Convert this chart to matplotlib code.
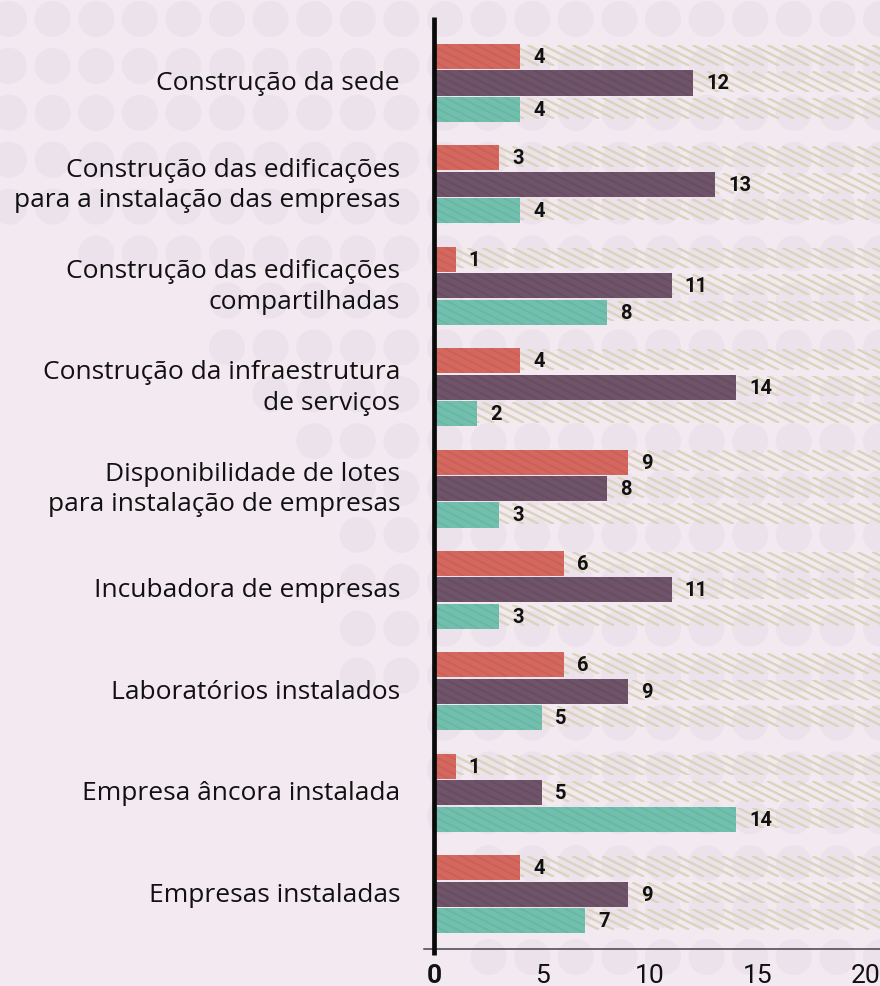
import numpy as np
import matplotlib
matplotlib.use("Agg")
import matplotlib.pyplot as plt
from matplotlib.patches import Circle
from matplotlib.collections import LineCollection

# ---------------- data ----------------
categories = [
    "Construção da sede",
    "Construção das edificações\npara a instalação das empresas",
    "Construção das edificações\ncompartilhadas",
    "Construção da infraestrutura\nde serviços",
    "Disponibilidade de lotes\npara instalação de empresas",
    "Incubadora de empresas",
    "Laboratórios instalados",
    "Empresa âncora instalada",
    "Empresas instaladas",
]
serie_vermelha = [4, 3, 1, 4, 9, 6, 6, 1, 4]
serie_roxa = [12, 13, 11, 14, 8, 11, 9, 5, 9]
serie_verde = [4, 4, 8, 2, 3, 3, 5, 14, 7]
x_ticks = [0, 5, 10, 15, 20]

# ---------------- style ----------------
BG = "#f3e9f1"
DOT = "#ece2eb"
RED, RED_H = "#d4685f", "#c25850"
PURPLE, PURPLE_H = "#6f5469", "#5f455a"
TEAL, TEAL_H = "#72bfae", "#5eae9c"
TRACK_H = "#dbd3bb"

plt.rcParams["font.family"] = ["Roboto", "DejaVu Sans"]

W, H = 880, 987
fig = plt.figure(figsize=(W / 100, H / 100), dpi=100, facecolor=BG)

# decorative dot background
bg = fig.add_axes([0, 0, 1, 1], zorder=0)
bg.set_xlim(0, W)
bg.set_ylim(H, 0)
bg.axis("off")
bx = [0, 60, 95, 200, 227, 250, 270, 313, 357, 400, 433, 488, 880]
by = [215, 230, 262, 290, 360, 380, 400, 455, 700, 705, 790, 990, 990]
for cy in np.arange(20, H + 30, 46.9):
    for cx in np.arange(9, W + 30, 43.6):
        if cy <= np.interp(cx, bx, by):
            bg.add_patch(Circle((cx, cy), 18, facecolor=DOT, edgecolor="none"))

# main axes
left_px, right_px, top_px, bottom_px = 434, 880, 18, 950
ax = fig.add_axes([left_px / W, 1 - bottom_px / H, (right_px - left_px) / W,
                   (bottom_px - top_px) / H], zorder=1)
ax.set_facecolor("none")
x_max = 20.65
y_top, y_bot = -0.651, 8.542
ax.set_xlim(0, x_max)
ax.set_ylim(y_bot, y_top)
px_x = (right_px - left_px) / x_max          # pixels per x unit
px_y = (bottom_px - top_px) / (y_bot - y_top)  # pixels per y unit

n = len(categories)
y = np.arange(n)
bh = 0.247
off = 0.261


def diag_lines(patch, color, lw, alpha, period_px=15.0, slope=0.5, z=2.5):
    """shallow diagonal hatch lines clipped to a bar patch"""
    x0 = patch.get_x()
    w = patch.get_width()
    y0 = patch.get_y()
    h = patch.get_height()
    span_px = h * px_y / slope
    segs = []
    start = x0 - span_px / px_x
    k = 0
    while True:
        xs = start + k * period_px / px_x
        if xs > x0 + w:
            break
        segs.append([(xs, y0), (xs + span_px / px_x, y0 + h)])
        k += 1
    lc = LineCollection(segs, colors=color, linewidths=lw, alpha=alpha,
                        zorder=z)
    ax.add_collection(lc)
    lc.set_clip_path(patch)


series = [
    (serie_vermelha, -off, RED, RED_H),
    (serie_roxa, 0.0, PURPLE, PURPLE_H),
    (serie_verde, off, TEAL, TEAL_H),
]
for vals, o, c, hc in series:
    tracks = ax.barh(y + o - 0.012, [x_max] * n, height=0.205, left=0,
                     facecolor="none", edgecolor="none", linewidth=0,
                     zorder=1)
    for p in tracks:
        diag_lines(p, TRACK_H, 1.7, 1.0, z=1.1)
    bars = ax.barh(y + o, vals, height=bh, color=c, linewidth=0, zorder=2)
    for p in bars:
        diag_lines(p, hc, 1.4, 0.45, z=2.1)
    for yy, v in zip(y + o, vals):
        ax.annotate(str(v), (v, yy), xytext=(9.5, 0), textcoords="offset points",
                    ha="left", va="center", fontsize=14.5, fontweight="bold",
                    color="#111111", zorder=3)

# category labels
tr = ax.get_yaxis_transform()
for yy, lab in zip(y, categories):
    ax.text(-34 / (right_px - left_px), yy, lab, transform=tr, ha="right",
            va="center", multialignment="right", fontsize=19,
            family=["Open Sans", "DejaVu Sans"],
            color="#111111", linespacing=1.3)

# axes lines
for s in ax.spines.values():
    s.set_visible(False)
ax.plot([0, 0], [y_top, y_bot + 0.06], color="#0a0a0a", lw=3.4, clip_on=False,
        zorder=4, solid_capstyle="butt")
ax.plot([-0.022, 1], [0, 0], transform=ax.transAxes, color="#444444", lw=1.1,
        clip_on=False, zorder=3)

ax.set_yticks([])
ax.set_xticks(x_ticks)
ax.set_xticklabels([str(t) for t in x_ticks])
ax.tick_params(axis="x", length=0, pad=10, labelsize=19, labelcolor="#111111")
ax.get_xticklabels()[0].set_fontweight("bold")

fig.savefig("out.png", dpi=100, facecolor=BG)
